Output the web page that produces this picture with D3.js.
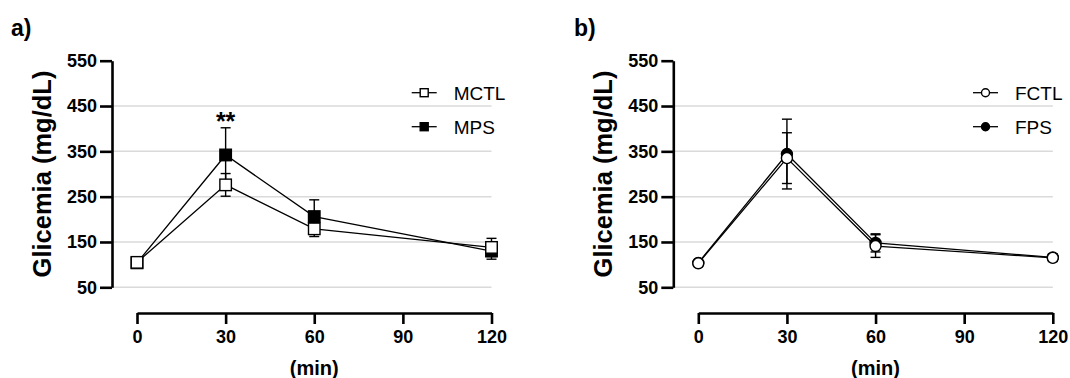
<!DOCTYPE html>
<html><head><meta charset="utf-8">
<script src="https://cdn.jsdelivr.net/npm/d3@7"></script>
<style>
html,body{margin:0;padding:0;background:#fff;}
svg text{font-family:"Liberation Sans",Arial,sans-serif;}
</style></head>
<body>
<svg id="chart" width="1070" height="378"></svg>
<script>
// ---- data ----
const times = [0, 30, 60, 120];
const xTicks = [0, 30, 60, 90, 120];
const yTicks = [50, 150, 250, 350, 450, 550];
const yGrid = [50, 150, 250, 350, 450];
// panel a (male)
const mctlMean = [105, 276, 179, 138];
const mctlSD   = [6, 25, 17, 20];
const mpsMean  = [104, 342, 206, 130];
const mpsSD    = [6, 60, 37, 18];
// panel b (female)
const fctlMean = [103, 335, 141, 115];
const fctlSD   = [5, 56, 25, 8];
const fpsMean  = [104, 344, 148, 116];
const fpsSD    = [5, 77, 20, 7];

const svg = d3.select("#chart");

function panel(opt) {
  const g = svg.append("g");
  const x = d3.scaleLinear().domain([0, 120]).range([opt.x0, opt.x0 + 354.5]);
  const y = d3.scaleLinear().domain([50, 550]).range([287.3, 60.7]);

  // panel label
  g.append("text").attr("x", opt.labelX).attr("y", 36)
    .attr("font-size", 23).attr("font-weight", "bold").text(opt.label);

  // gridlines
  g.selectAll(".grid").data(yGrid).enter().append("line")
    .attr("x1", opt.x0 - 25).attr("x2", x(120))
    .attr("y1", d => y(d)).attr("y2", d => y(d))
    .attr("stroke", "#dadada").attr("stroke-width", 1.5);

  // y axis
  const ya = g.append("g").attr("transform", `translate(${opt.x0 - 25},0)`)
    .call(d3.axisLeft(y).tickValues(yTicks).tickSize(12).tickSizeOuter(0).tickPadding(3));
  ya.select(".domain").attr("stroke", "#000").attr("stroke-width", 2.6);
  ya.selectAll(".tick line").attr("stroke", "#000").attr("stroke-width", 2.6);
  ya.selectAll(".tick text").attr("font-size", 18).attr("font-weight", "bold")
    .attr("fill", "#000").attr("font-family", "Liberation Sans, Arial, sans-serif");

  // y title
  g.append("text").attr("transform", `translate(${opt.x0 - 86},174) rotate(-90)`)
    .attr("text-anchor", "middle").attr("font-size", 25.5).attr("font-weight", "bold")
    .text("Glicemia (mg/dL)");

  // x axis
  const xa = g.append("g").attr("transform", "translate(0,313)")
    .call(d3.axisBottom(x).tickValues(xTicks).tickSize(11).tickSizeOuter(0).tickPadding(6));
  xa.select(".domain").attr("stroke", "#000").attr("stroke-width", 2.6);
  xa.selectAll(".tick line").attr("stroke", "#000").attr("stroke-width", 2.6);
  xa.selectAll(".tick text").attr("font-size", 18).attr("font-weight", "bold")
    .attr("fill", "#000").attr("font-family", "Liberation Sans, Arial, sans-serif");

  g.append("text").attr("x", x(60)).attr("y", 375).attr("text-anchor", "middle")
    .attr("font-size", 20).attr("font-weight", "bold").text("(min)");

  const line = d3.line().x((d, i) => x(times[i])).y(d => y(d));

  function marker(sel, shape, filled, size) {
    if (shape === "square") {
      sel.append("rect").attr("x", -size / 2).attr("y", -size / 2)
        .attr("width", size).attr("height", size)
        .attr("fill", filled ? "#000" : "#fff").attr("stroke", "#000").attr("stroke-width", 1.4);
    } else {
      sel.append("circle").attr("r", size / 2)
        .attr("fill", filled ? "#000" : "#fff").attr("stroke", "#000").attr("stroke-width", 1.4);
    }
  }

  function series(mean, sd, filled) {
    const sg = g.append("g");
    // error bars
    mean.forEach((m, i) => {
      const cx = x(times[i]);
      sg.append("line").attr("x1", cx).attr("x2", cx)
        .attr("y1", y(m - sd[i])).attr("y2", y(m + sd[i]))
        .attr("stroke", "#000").attr("stroke-width", 1.4);
      [m - sd[i], m + sd[i]].forEach(v => {
        sg.append("line").attr("x1", cx - 5).attr("x2", cx + 5)
          .attr("y1", y(v)).attr("y2", y(v))
          .attr("stroke", "#000").attr("stroke-width", 1.4);
      });
    });
    sg.append("path").datum(mean).attr("d", line)
      .attr("fill", "none").attr("stroke", "#000").attr("stroke-width", 1.3);
    mean.forEach((m, i) => {
      const mg = sg.append("g").attr("transform", `translate(${x(times[i])},${y(m)})`);
      marker(mg, opt.shape, filled, opt.msize);
    });
  }
  series(opt.b.mean, opt.b.sd, true);
  series(opt.a.mean, opt.a.sd, false);

  // legend
  const lx = opt.legX;
  [[opt.a.name, false, 92.7], [opt.b.name, true, 126.7]].forEach(([name, filled, ly]) => {
    g.append("line").attr("x1", lx).attr("x2", lx + 25).attr("y1", ly).attr("y2", ly)
      .attr("stroke", "#000").attr("stroke-width", 1.3);
    const mg = g.append("g").attr("transform", `translate(${lx + 12.5},${ly})`);
    marker(mg, opt.shape, filled, 8);
    g.append("text").attr("x", lx + 42).attr("y", ly + 7).attr("font-size", 19).text(name);
  });

  if (opt.star) {
    g.append("text").attr("x", x(30)).attr("y", 130).attr("text-anchor", "middle")
      .attr("font-size", 25).attr("font-weight", "bold").text("**");
  }
}

panel({x0: 137, label: "a)", labelX: 11, shape: "square", msize: 11.5, legX: 411.7, star: true,
  a: {name: "MCTL", mean: mctlMean, sd: mctlSD}, b: {name: "MPS", mean: mpsMean, sd: mpsSD}});
panel({x0: 698.3, label: "b)", labelX: 574, shape: "circle", msize: 11, legX: 973, star: false,
  a: {name: "FCTL", mean: fctlMean, sd: fctlSD}, b: {name: "FPS", mean: fpsMean, sd: fpsSD}});
</script>
</body></html>
